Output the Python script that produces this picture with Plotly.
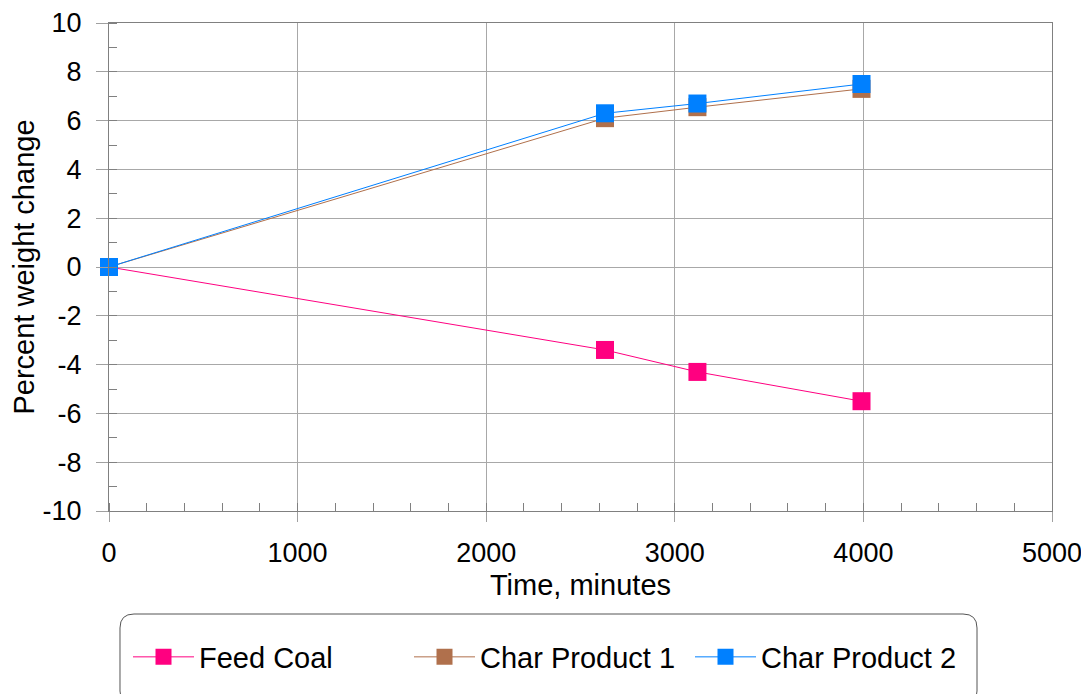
import plotly.graph_objects as go

time_min = [0, 2630, 3120, 3990]
feed_coal = [0, -3.4, -4.3, -5.5]
char1 = [0, 6.1, 6.55, 7.3]
char2 = [0, 6.3, 6.7, 7.5]

x_ticks = [0, 1000, 2000, 3000, 4000, 5000]
y_ticks = list(range(-10, 11, 2))
y_ticktext = [str(v).replace("\u2212", "-") for v in y_ticks]

series = [
    ("Feed Coal", feed_coal, "#FF0080", "legend"),
    ("Char Product 1", char1, "#B0704C", "legend2"),
    ("Char Product 2", char2, "#0080FF", "legend3"),
]

OFF = 8  # page body margin
W, H = 1089 - OFF, 694 - OFF
L, R, T, B = 109 - OFF, 37, 23 - OFF, 183
pw, ph = W - L - R, H - T - B
FONT = "Liberation Sans, Arial, sans-serif"
FS = 27
FST = 29

fig = go.Figure()
for name, ys, col, lg in series:
    fig.add_trace(go.Scatter(
        x=time_min, y=ys, name=name, mode="lines+markers",
        line=dict(color=col, width=1),
        marker=dict(symbol="square", size=18, color=col),
        cliponaxis=False, legend=lg,
    ))

# overlay axes used only for crossing minor ticks
fig.add_trace(go.Scatter(x=[None], y=[None], xaxis="x2", yaxis="y2",
                         showlegend=False, hoverinfo="skip"))

def px2paper(x, y):
    x -= OFF
    y -= OFF
    return (x - L) / pw, (H - B - y) / ph

def P(x, y):
    a, b = px2paper(x, y)
    return f"{a:.5f},{b:.5f}"

# rounded legend box
x0, y0, x1, y1, r = 120, 614, 977, 705, 14
path = (f"M {P(x0+r,y0)} L {P(x1-r,y0)} Q {P(x1,y0)} {P(x1,y0+r)} L {P(x1,y1-r)} "
        f"Q {P(x1,y1)} {P(x1-r,y1)} L {P(x0+r,y1)} Q {P(x0,y1)} {P(x0,y1-r)} "
        f"L {P(x0,y0+r)} Q {P(x0,y0)} {P(x0+r,y0)} Z")
fig.add_shape(type="path", path=path, xref="paper", yref="paper",
              line=dict(color="#555555", width=1), fillcolor="rgba(0,0,0,0)", layer="below")

def legend_at(px_x):
    lx, ly = px2paper(px_x, 657)
    return dict(x=lx, y=ly, xanchor="left", yanchor="middle",
                font=dict(size=FST, family=FONT), bgcolor="rgba(0,0,0,0)",
                borderwidth=0, itemwidth=61)

fig.update_layout(
    width=W, height=H,
    margin=dict(l=L, r=R, t=T, b=B),
    paper_bgcolor="white", plot_bgcolor="white",
    font=dict(family=FONT, size=FS, color="black"),
    showlegend=True,
    legend=legend_at(128),
    legend2=legend_at(409),
    legend3=legend_at(690),
    xaxis=dict(
        range=[0, 5000], tickvals=x_ticks, automargin=False,
        showgrid=True, gridcolor="#A8A8A8", gridwidth=1,
        showline=True, linecolor="#808080", linewidth=1, mirror=True,
        ticks="outside", ticklen=10, tickcolor="#A0A0A0",
        ticklabelstandoff=8,
        zeroline=False,
        title=dict(text="Time, minutes", standoff=7, font=dict(size=FST)),
    ),
    yaxis=dict(
        range=[-10, 10], tickvals=y_ticks, ticktext=y_ticktext, automargin=False,
        showgrid=True, gridcolor="#A8A8A8", gridwidth=1,
        showline=True, linecolor="#808080", linewidth=1, mirror=True,
        ticks="outside", ticklen=12, tickcolor="#A0A0A0",
        ticklabelstandoff=9,
        zeroline=False,
        title=dict(text="Percent weight change", standoff=0, font=dict(size=FST)),
    ),
    xaxis2=dict(
        range=[0, 5000], overlaying="x", anchor="y", side="bottom",
        showgrid=False, showticklabels=False, showline=False, zeroline=False,
        tickvals=[], automargin=False,
        minor=dict(dtick=200, tick0=0, ticks="inside", ticklen=8, tickcolor="#808080", showgrid=False),
    ),
    yaxis2=dict(
        range=[-10, 10], overlaying="y", anchor="x", side="left",
        showgrid=False, showticklabels=False, showline=False, zeroline=False,
        tickvals=[], automargin=False,
        minor=dict(dtick=1, tick0=0, ticks="inside", ticklen=8, tickcolor="#808080", showgrid=False),
    ),
)

fig.write_html("out.html")
